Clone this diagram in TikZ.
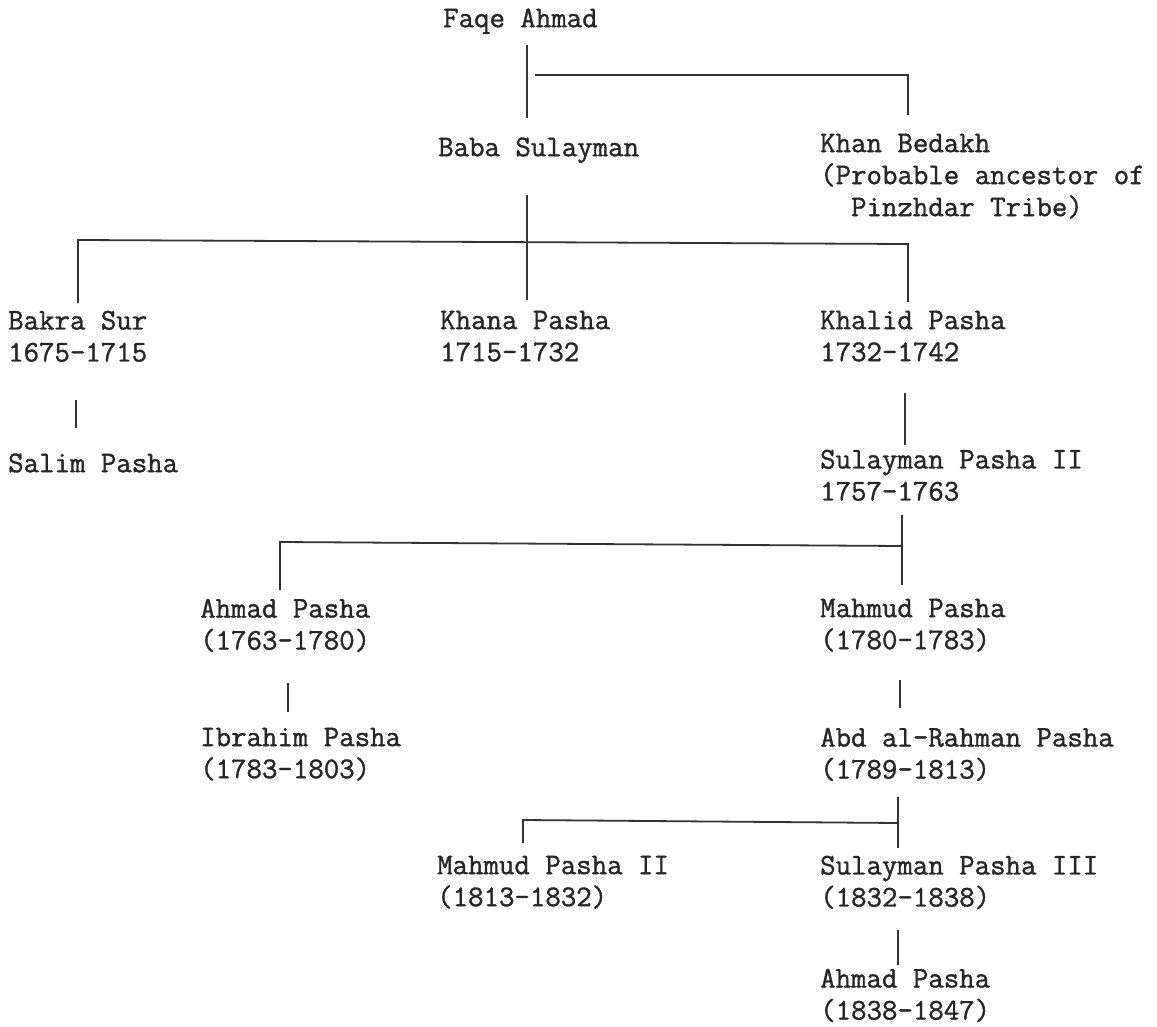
\documentclass[tikz,border=0pt]{standalone}
\usepackage{fontspec}
\newfontfamily\tw[FakeBold=1.2]{Latin Modern Mono}
\begin{document}
\begin{tikzpicture}[x=1pt,y=-1pt,
  person/.style={anchor=north west,inner sep=0pt,align=left,
    font=\tw\fontsize{30}{32}\selectfont,text=black!85,
    execute at begin node=\strut},
  link/.style={line width=1.8pt,draw=black!80}]
\useasboundingbox (0,0) rectangle (1157,1027);
\fill[white] (0,0) rectangle (1157,1027);
% people (north = baseline - 22.4)
\node[person] (faqe)   at (443,4.6)   {Faqe Ahmad};
\node[person] (baba)   at (438,133.6) {Baba Sulayman};
\node[person] (khan)   at (820,133.6) {Khan Bedakh\\(Probable ancestor of\\\ \ Pinzhdar Tribe)};
\node[person] (bakra)  at (8,310.6)   {Bakra Sur\\1675-1715};
\node[person] (khana)  at (440,310.6) {Khana Pasha\\1715-1732};
\node[person] (khalid) at (820,310.6) {Khalid Pasha\\1732-1742};
\node[person] (salim)  at (8,449.6)   {Salim Pasha};
\node[person] (sul2)   at (820,449.6) {Sulayman Pasha II\\1757-1763};
\node[person] (ahmad1) at (200,598.6) {Ahmad Pasha\\(1763-1780)};
\node[person] (mahmud) at (820,598.6) {Mahmud Pasha\\(1780-1783)};
\node[person] (ibra)   at (200,727.6) {Ibrahim Pasha\\(1783-1803)};
\node[person] (abd)    at (820,727.6) {Abd al-Rahman Pasha\\(1789-1813)};
\node[person] (mah2)   at (437,855.6) {Mahmud Pasha II\\(1813-1832)};
\node[person] (sul3)   at (820,855.6) {Sulayman Pasha III\\(1832-1838)};
\node[person] (ahmad2) at (820,968.6) {Ahmad Pasha\\(1838-1847)};
% junction coordinates
\coordinate (f1) at (527,45);   \coordinate (f2) at (527,118);
\coordinate (fh1) at (535,75);  \coordinate (fh2) at (908,75); \coordinate (fk) at (908,115);
\coordinate (b1) at (527,195);  \coordinate (b2) at (527,300);
\coordinate (bl) at (78,240);   \coordinate (br) at (908,244);
\coordinate (blb) at (78,303);  \coordinate (brb) at (908,302);
\coordinate (s1) at (76,400);   \coordinate (s2) at (76,428);
\coordinate (k1) at (905,393);  \coordinate (k2) at (905,445);
\coordinate (u1) at (902,515);  \coordinate (u2) at (902,585);
\coordinate (ul) at (280,542);  \coordinate (ur) at (902,546); \coordinate (ulb) at (280,590);
\coordinate (a1) at (288,683);  \coordinate (a2) at (288,712);
\coordinate (m1) at (900,680);  \coordinate (m2) at (900,708);
\coordinate (d1) at (898,797);  \coordinate (d2) at (898,848);
\coordinate (dl) at (523,820);  \coordinate (dr) at (898,823); \coordinate (dlb) at (523,843);
\coordinate (t1) at (898,930);  \coordinate (t2) at (898,965);
% connectors
\draw[link] (f1) -- (f2);
\draw[link] (fh1) -- (fh2) -- (fk);
\draw[link] (b1) -- (b2);
\draw[link] (blb) -- (bl) -- (br) -- (brb);
\draw[link] (s1) -- (s2);
\draw[link] (k1) -- (k2);
\draw[link] (u1) -- (u2);
\draw[link] (ulb) -- (ul) -- (ur);
\draw[link] (a1) -- (a2);
\draw[link] (m1) -- (m2);
\draw[link] (d1) -- (d2);
\draw[link] (dlb) -- (dl) -- (dr);
\draw[link] (t1) -- (t2);
\end{tikzpicture}
\end{document}
